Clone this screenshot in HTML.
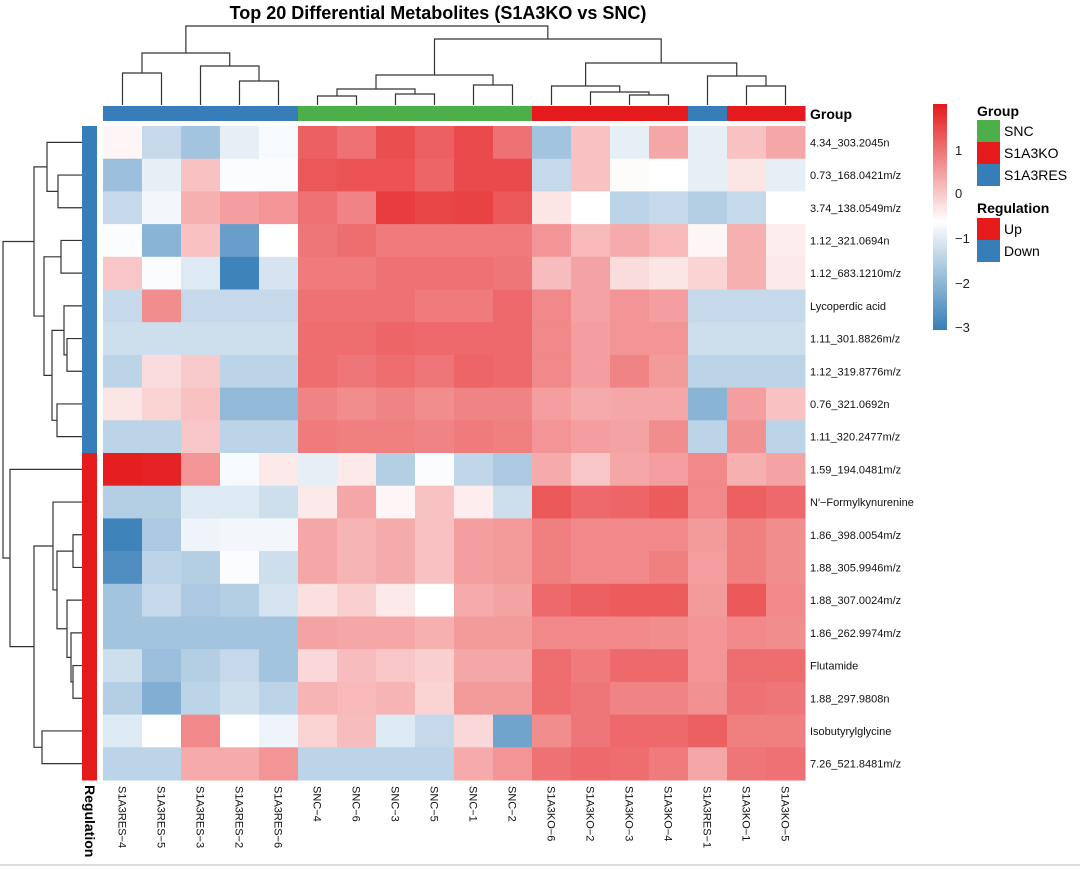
<!DOCTYPE html>
<html><head><meta charset="utf-8"><style>
body{margin:0;background:#fff;}
svg{display:block;font-family:"Liberation Sans",sans-serif;}
</style></head><body>
<svg id="chart" width="1080" height="869" viewBox="0 0 1080 869" xmlns="http://www.w3.org/2000/svg">
<text x="438" y="19" text-anchor="middle" font-size="18" font-weight="bold">Top 20 Differential Metabolites (S1A3KO vs SNC)</text>
<g id="cells"></g>
<g id="coldendro" stroke="#333" fill="none" stroke-width="1.2"></g>
<g id="rowdendro" stroke="#333" fill="none" stroke-width="1.2"></g>
<g id="annot"></g>
<text x="810" y="119" font-size="14" font-weight="bold">Group</text>
<text transform="translate(85,785) rotate(90)" font-size="14" font-weight="bold">Regulation</text>
<g>
<defs><linearGradient id="cg" x1="0" y1="0" x2="0" y2="1">
<stop offset="0" stop-color="#e41a1c"/><stop offset="0.52" stop-color="#ffffff"/><stop offset="1" stop-color="#377eb8"/></linearGradient></defs>
<rect x="933" y="104" width="14" height="226" fill="url(#cg)"/>
<g font-size="13" fill="#222">
<text x="955" y="155">1</text><text x="955" y="198">0</text><text x="955" y="243">−1</text><text x="955" y="288">−2</text><text x="955" y="332">−3</text></g>
</g>
<g font-size="14">
<text x="977" y="116" font-weight="bold">Group</text>
<rect x="977" y="120" width="23" height="22" fill="#4daf4a"/><text x="1004" y="136">SNC</text>
<rect x="977" y="142" width="23" height="22" fill="#e41a1c"/><text x="1004" y="158">S1A3KO</text>
<rect x="977" y="164" width="23" height="22" fill="#377eb8"/><text x="1004" y="180">S1A3RES</text>
<text x="977" y="213" font-weight="bold">Regulation</text>
<rect x="977" y="218" width="23" height="22" fill="#e41a1c"/><text x="1004" y="234">Up</text>
<rect x="977" y="240" width="23" height="22" fill="#377eb8"/><text x="1004" y="256">Down</text>
</g>
<line x1="0" y1="865" x2="1080" y2="865" stroke="#ddd" stroke-width="2"/>
</svg>
<script>
const samples=["S1A3RES−4","S1A3RES−5","S1A3RES−3","S1A3RES−2","S1A3RES−6","SNC−4","SNC−6","SNC−3","SNC−5","SNC−1","SNC−2","S1A3KO−6","S1A3KO−2","S1A3KO−3","S1A3KO−4","S1A3RES−1","S1A3KO−1","S1A3KO−5"];
const groups=["RES","RES","RES","RES","RES","SNC","SNC","SNC","SNC","SNC","SNC","KO","KO","KO","KO","RES","KO","KO"];
const metabolites=["4.34_303.2045n","0.73_168.0421m/z","3.74_138.0549m/z","1.12_321.0694n","1.12_683.1210m/z","Lycoperdic acid","1.11_301.8826m/z","1.12_319.8776m/z","0.76_321.0692n","1.11_320.2477m/z","1.59_194.0481m/z","N′−Formylkynurenine","1.86_398.0054m/z","1.88_305.9946m/z","1.88_307.0024m/z","1.86_262.9974m/z","Flutamide","1.88_297.9808n","Isobutyrylglycine","7.26_521.8481m/z"];
const regulation=["Down","Down","Down","Down","Down","Down","Down","Down","Down","Down","Up","Up","Up","Up","Up","Up","Up","Up","Up","Up"];
const values=[
[-0.5,-1.3,-1.7,-0.9,-0.7,1.2,1.0,1.4,1.2,1.45,1.0,-1.7,0.1,-0.9,0.4,-0.9,0.1,0.4],
[-1.8,-0.9,0.1,-0.65,-0.65,1.3,1.35,1.35,1.15,1.45,1.45,-1.3,0.1,-0.55,-0.6,-0.9,-0.3,-0.9],
[-1.3,-0.75,0.3,0.5,0.6,1.0,0.8,1.6,1.5,1.55,1.3,-0.3,-0.6,-1.4,-1.3,-1.5,-1.3,-0.6],
[-0.65,-2.0,0.1,-2.4,-0.6,0.95,1.05,0.9,0.9,0.9,0.9,0.6,0.2,0.35,0.2,-0.5,0.3,-0.4],
[0.05,-0.65,-1.0,-2.9,-1.1,0.9,0.9,1.0,1.0,1.0,0.95,0.15,0.45,-0.2,-0.3,-0.1,0.3,-0.35],
[-1.3,0.7,-1.3,-1.3,-1.3,1.0,1.0,1.0,0.9,0.9,1.1,0.75,0.45,0.6,0.5,-1.3,-1.3,-1.3],
[-1.2,-1.2,-1.2,-1.2,-1.2,1.05,1.05,1.15,1.1,1.1,1.1,0.75,0.5,0.6,0.6,-1.2,-1.2,-1.2],
[-1.4,-0.2,0.0,-1.4,-1.4,1.05,0.95,1.05,0.95,1.15,1.1,0.75,0.5,0.8,0.55,-1.4,-1.4,-1.4],
[-0.3,-0.1,0.1,-1.9,-1.9,0.8,0.7,0.8,0.7,0.8,0.8,0.5,0.35,0.4,0.4,-2.0,0.5,0.1],
[-1.4,-1.4,0.05,-1.4,-1.4,0.9,0.85,0.85,0.8,0.9,0.85,0.6,0.5,0.45,0.7,-1.4,0.65,-1.4],
[1.95,1.9,0.6,-0.7,-0.35,-0.9,-0.35,-1.5,-0.65,-1.35,-1.6,0.35,0.05,0.4,0.5,0.75,0.3,0.45],
[-1.5,-1.5,-1.0,-1.0,-1.2,-0.35,0.4,-0.5,0.1,-0.4,-1.2,1.3,1.1,1.15,1.25,0.75,1.2,1.1],
[-2.9,-1.6,-0.8,-0.75,-0.75,0.4,0.25,0.35,0.1,0.5,0.55,0.85,0.75,0.75,0.75,0.55,0.85,0.7],
[-2.7,-1.4,-1.5,-0.65,-1.2,0.4,0.25,0.35,0.1,0.5,0.55,0.85,0.75,0.75,0.85,0.5,0.85,0.7],
[-1.7,-1.3,-1.6,-1.5,-1.1,-0.25,-0.05,-0.35,-0.6,0.35,0.45,1.1,1.2,1.25,1.25,0.55,1.3,0.75],
[-1.7,-1.7,-1.7,-1.7,-1.7,0.45,0.4,0.4,0.3,0.55,0.55,0.75,0.75,0.75,0.7,0.6,0.75,0.7],
[-1.2,-1.8,-1.5,-1.3,-1.7,-0.15,0.15,0.05,-0.05,0.4,0.4,1.05,0.9,1.1,1.1,0.6,1.05,1.05],
[-1.5,-2.1,-1.4,-1.2,-1.4,0.25,0.2,0.25,-0.1,0.55,0.55,1.05,0.95,0.8,0.8,0.65,1.0,0.95],
[-1.0,-0.6,0.75,-0.6,-0.8,-0.1,0.15,-1.0,-1.3,-0.15,-2.3,0.7,0.95,1.1,1.1,1.2,0.85,0.85],
[-1.4,-1.4,0.35,0.35,0.6,-1.4,-1.4,-1.4,-1.4,0.35,0.6,1.0,1.1,1.05,0.9,0.4,0.95,1.0]];
// dendrogram merges: [leftNode,rightNode,height]; leaves are indices, internal nodes "n#"
const colMerges=[[0,1,73],[3,4,81],[2,"n1",66],["n0","n2",53],[5,6,96],[7,8,94],["n4","n5",89],[9,10,85],["n6","n7",75],[13,14,95],[12,"n9",92],[11,"n10",86],[16,17,86],[15,"n12",76],["n11","n13",63],["n8","n14",39],["n3","n15",26]];
const rowMerges=[[1,2,58],[0,"n0",47],[3,4,61],[6,7,67],[5,"n3",64],[8,9,57],["n4","n5",52],["n2","n6",44],["n1","n7",34],[16,17,73],[15,"n9",71],[14,"n10",67],[12,13,73],["n12","n11",57],[11,"n13",53],[18,19,42],["n14","n15",34],[10,"n16",10],["n8","n17",3]];

const X0=103,CW=39,Y0=126,RH=32.7;
const xs=i=>X0+CW*i, ys=j=>Y0+RH*j;
const groupColor={SNC:"#4daf4a",KO:"#e41a1c",RES:"#377eb8"};
const regColor={Up:"#e41a1c",Down:"#377eb8"};
function col(v){
  const w=[255,255,255];let c,t;
  if(v>=-0.6){c=[228,26,28];t=Math.min(1,(v+0.6)/2.6);} else {c=[55,126,184];t=Math.min(1,(-0.6-v)/2.4);}
  return "rgb("+w.map((a,k)=>Math.round(a+(c[k]-a)*t)).join(",")+")";
}
const NS="http://www.w3.org/2000/svg";
function mk(tag,attrs,parent){const e=document.createElementNS(NS,tag);for(const k in attrs)e.setAttribute(k,attrs[k]);parent.appendChild(e);return e;}
const cells=document.getElementById("cells");
values.forEach((row,j)=>row.forEach((v,i)=>{
  const r=mk("rect",{x:xs(i),y:ys(j),width:CW+0.5,height:RH+0.5,fill:col(v)},cells);
  
  
}));
const annot=document.getElementById("annot");
groups.forEach((g,i)=>{
  const r=mk("rect",{x:xs(i),y:106,width:CW+0.5,height:15,fill:groupColor[g]},annot);
  
  
});
regulation.forEach((g,j)=>{
  const r=mk("rect",{x:82,y:ys(j),width:15,height:RH+0.5,fill:regColor[g]},annot);
  
  
});
metabolites.forEach((m,j)=>{
  const t=mk("text",{x:810,y:ys(j)+RH/2+4,"font-size":11,fill:"#111"},annot);t.textContent=m;
  
  
});
samples.forEach((s,i)=>{
  const cx=xs(i)+CW/2;
  const t=mk("text",{transform:`translate(${cx-4},786) rotate(90)`,"font-size":11,fill:"#111"},annot);t.textContent=s;
  
  
});
// column dendrogram
const cd=document.getElementById("coldendro");
const cpos={};const cLeafY=105;
function cp(n){return typeof n==="number"?{x:xs(n)+CW/2,y:cLeafY}:cpos[n];}
colMerges.forEach((m,k)=>{
  const a=cp(m[0]),b=cp(m[1]),h=m[2];
  const p=mk("path",{d:`M${a.x},${a.y}V${h}H${b.x}V${b.y}`},cd);
  
  
  cpos["n"+k]={x:(a.x+b.x)/2,y:h};
});
const rd=document.getElementById("rowdendro");
const rpos={};const rLeafX=82;
function rp(n){return typeof n==="number"?{x:rLeafX,y:ys(n)+RH/2}:rpos[n];}
rowMerges.forEach((m,k)=>{
  const a=rp(m[0]),b=rp(m[1]),h=m[2];
  const p=mk("path",{d:`M${a.x},${a.y}H${h}V${b.y}H${b.x}`},rd);
  
  
  rpos["n"+k]={x:h,y:(a.y+b.y)/2};
});
</script>
</body></html>
